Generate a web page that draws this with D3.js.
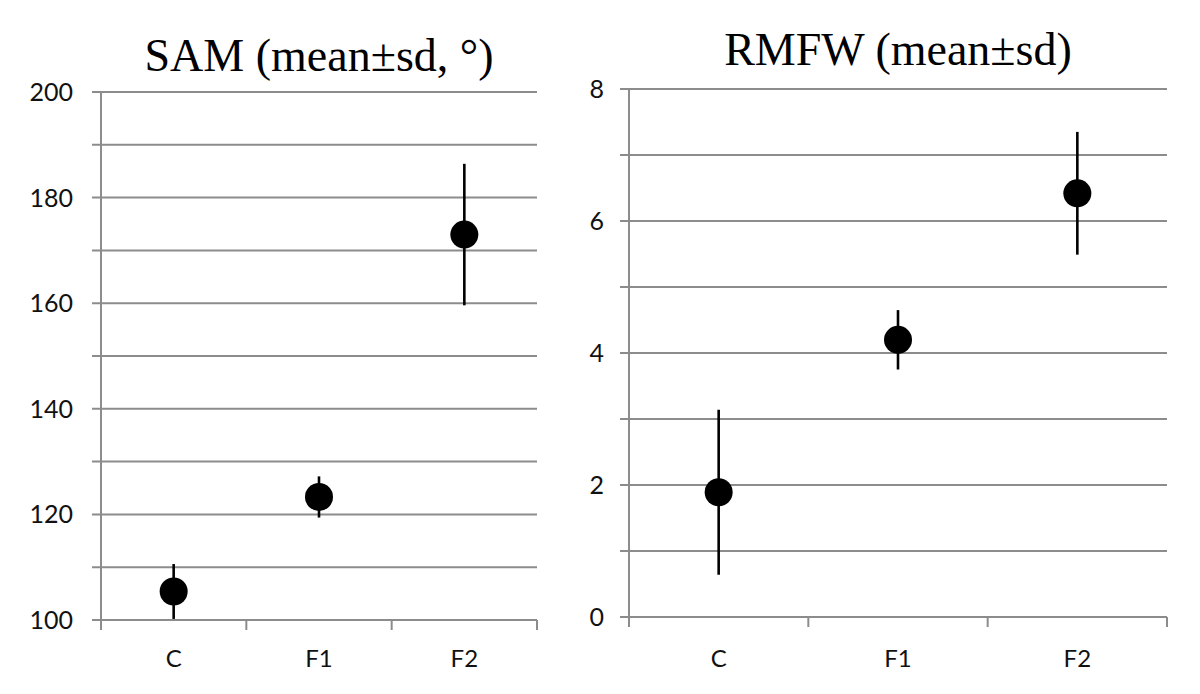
<!DOCTYPE html>
<html><head><meta charset="utf-8">
<script src="https://cdn.jsdelivr.net/npm/d3@7"></script>
<style>body{margin:0;background:#fff}svg{display:block}</style>
</head><body>
<svg id="c" width="1200" height="694"></svg>
<script>
const categories = ["C", "F1", "F2"];
const samMean = [105.4, 123.3, 173.0];
const samSd = [5.2, 3.9, 13.4];
const rmfwMean = [1.89, 4.20, 6.42];
const rmfwSd = [1.25, 0.45, 0.93];
const samGrid = [100, 110, 120, 130, 140, 150, 160, 170, 180, 190, 200];
const samLabels = [100, 120, 140, 160, 180, 200];
const rmfwGrid = [0, 1, 2, 3, 4, 5, 6, 7, 8];
const rmfwLabels = [0, 2, 4, 6, 8];

const svg = d3.select("#c");
const gridColor = "#8c8c8c";

function panel(cfg) {
  const g = svg.append("g");
  const x = d3.scaleBand().domain(categories).range([cfg.x0, cfg.x1]).padding(0);
  const y = d3.scaleLinear().domain(cfg.domain).range([cfg.yb, cfg.yt]);

  // gridlines with left tick stubs
  g.selectAll("line.grid").data(cfg.grid).join("line")
    .attr("x1", cfg.x0 - 9).attr("x2", cfg.x1)
    .attr("y1", d => y(d)).attr("y2", d => y(d))
    .attr("stroke", gridColor).attr("stroke-width", 2);
  // vertical axis
  g.append("line").attr("x1", cfg.x0).attr("x2", cfg.x0)
    .attr("y1", y(cfg.domain[1])).attr("y2", y(cfg.domain[0]))
    .attr("stroke", gridColor).attr("stroke-width", 2);
  // x tick marks at category boundaries
  const bounds = categories.map(c => x(c)).concat([cfg.x1]);
  g.selectAll("line.xt").data(bounds).join("line")
    .attr("x1", d => d).attr("x2", d => d)
    .attr("y1", y(cfg.domain[0])).attr("y2", y(cfg.domain[0]) + 10)
    .attr("stroke", gridColor).attr("stroke-width", 2);
  // y labels
  g.selectAll("text.yl").data(cfg.labels).join("text")
    .attr("x", cfg.labelX).attr("y", d => y(d))
    .attr("dy", "0.36em").attr("text-anchor", "end")
    .attr("font-family", "Lato, 'Open Sans', sans-serif").attr("font-size", 25)
    .attr("fill", "#111").text(d => d);
  // x labels
  g.selectAll("text.xl").data(categories).join("text")
    .attr("x", d => x(d) + x.bandwidth() / 2).attr("y", cfg.catY)
    .attr("text-anchor", "middle")
    .attr("font-family", "Lato, 'Open Sans', sans-serif").attr("font-size", 24)
    .attr("fill", "#111").text(d => d);
  // error bars
  g.selectAll("line.err").data(categories).join("line")
    .attr("x1", d => x(d) + x.bandwidth() / 2).attr("x2", d => x(d) + x.bandwidth() / 2)
    .attr("y1", (d, i) => y(cfg.mean[i] + cfg.sd[i]))
    .attr("y2", (d, i) => y(cfg.mean[i] - cfg.sd[i]))
    .attr("stroke", "#000").attr("stroke-width", 2.6);
  // points
  g.selectAll("circle").data(categories).join("circle")
    .attr("cx", d => x(d) + x.bandwidth() / 2)
    .attr("cy", (d, i) => y(cfg.mean[i]))
    .attr("r", 14).attr("fill", "#000");
  // title
  g.append("text").attr("x", (cfg.x0 + cfg.x1) / 2).attr("y", cfg.titleY)
    .attr("text-anchor", "middle")
    .attr("font-family", "'Liberation Serif', 'Times New Roman', serif")
    .attr("font-size", 46).attr("fill", "#000").text(cfg.title);
}

panel({x0: 101, x1: 537, yt: 92, yb: 620, domain: [100, 200], grid: samGrid, labels: samLabels,
  labelX: 73, catY: 667, mean: samMean, sd: samSd, title: "SAM (mean±sd, °)", titleY: 71});
panel({x0: 629, x1: 1167, yt: 89, yb: 617, domain: [0, 8], grid: rmfwGrid, labels: rmfwLabels,
  labelX: 604, catY: 667, mean: rmfwMean, sd: rmfwSd, title: "RMFW (mean±sd)", titleY: 65});
</script>
</body></html>
